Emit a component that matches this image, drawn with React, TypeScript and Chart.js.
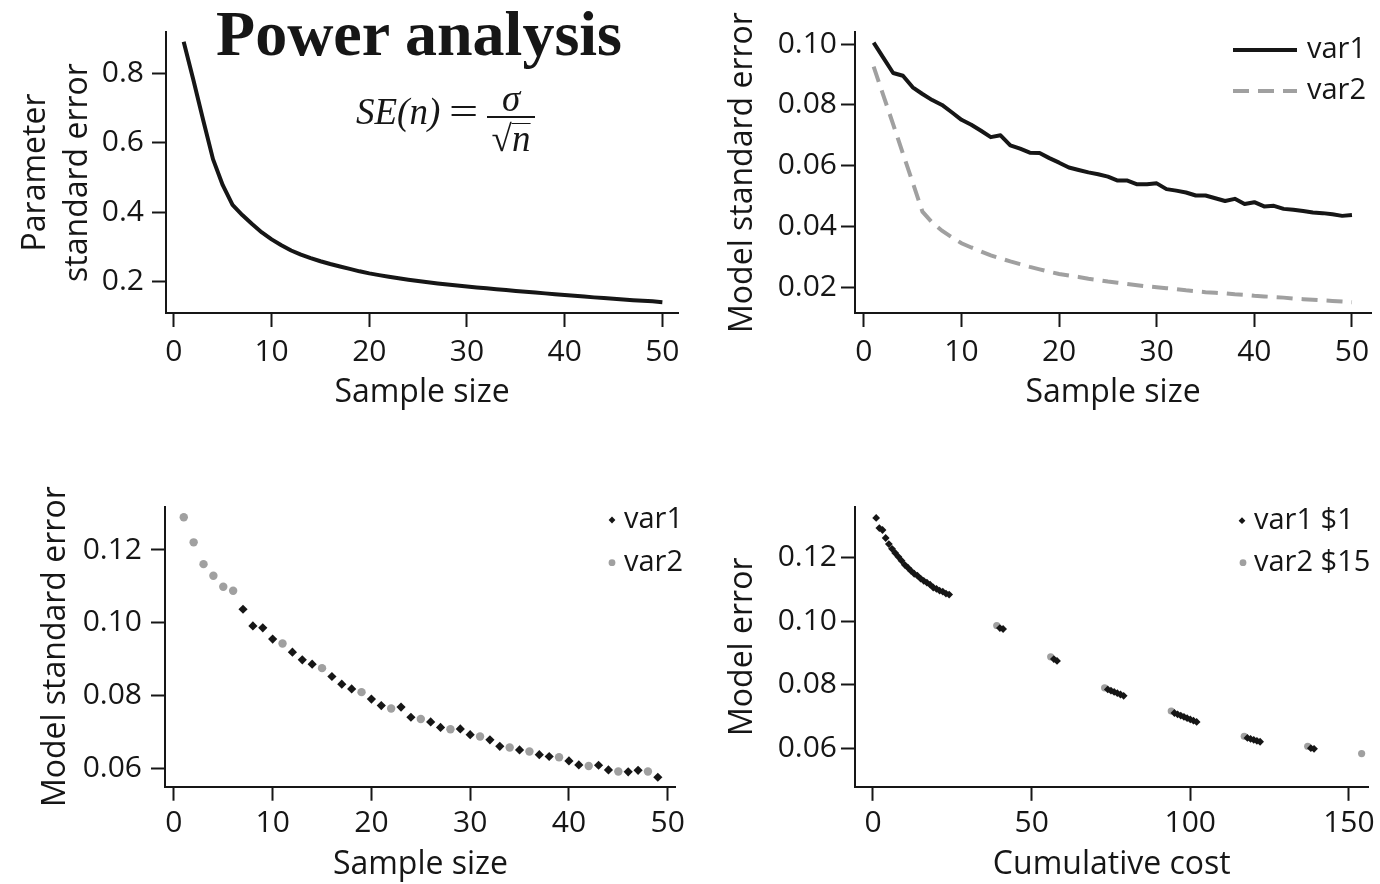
import React, { useEffect, useRef } from 'react';
import { Chart, registerables } from 'chart.js';

Chart.register(...registerables);

const SANS = '"Open Sans", "Noto Sans", sans-serif';
const SERIF = '"Liberation Serif", "DejaVu Serif", serif';
const INK = '#161616';
const GRAY = '#a0a0a0';

// ---------- data ----------
const sampleSizes = [
  1, 2, 3, 4, 5, 6, 7, 8, 9, 10, 11, 12, 13, 14, 15, 16, 17, 18, 19, 20, 21, 22, 23, 24, 25,
  26, 27, 28, 29, 30, 31, 32, 33, 34, 35, 36, 37, 38, 39, 40, 41, 42, 43, 44, 45, 46, 47, 48, 49, 50,
];

const paramStdError = [
  0.891, 0.78, 0.665, 0.553, 0.478, 0.421, 0.392, 0.366, 0.342, 0.322,
  0.305, 0.29, 0.278, 0.268, 0.259, 0.251, 0.244, 0.237, 0.23, 0.224,
  0.219, 0.2145, 0.21, 0.206, 0.202, 0.1985, 0.195, 0.192, 0.189, 0.186,
  0.1835, 0.181, 0.1785, 0.176, 0.1735, 0.1715, 0.169, 0.1665, 0.164, 0.162,
  0.16, 0.1575, 0.155, 0.153, 0.151, 0.149, 0.147, 0.1455, 0.1435, 0.141,
];

const modelSeVar1 = [
  0.1005, 0.0955, 0.0905, 0.0896, 0.0858, 0.0836, 0.0816, 0.08, 0.0776, 0.0751,
  0.0735, 0.0715, 0.0694, 0.07, 0.0667, 0.0656, 0.0643, 0.0642, 0.0625, 0.061,
  0.0594, 0.0586, 0.0578, 0.0572, 0.0564, 0.0551, 0.0551, 0.0539, 0.0539, 0.0542,
  0.0523, 0.0518, 0.0512, 0.0502, 0.0502, 0.0493, 0.0484, 0.0491, 0.0474, 0.048,
  0.0466, 0.0468, 0.0458, 0.0455, 0.0451, 0.0446, 0.0444, 0.044, 0.0435, 0.0438,
];

const modelSeVar2 = [
  0.0926, 0.0831, 0.0736, 0.064, 0.0545, 0.0449, 0.0413, 0.0386, 0.0365, 0.0345,
  0.0331, 0.0318, 0.0305, 0.0295, 0.0285, 0.0276, 0.0267, 0.0259, 0.0251, 0.0244,
  0.0239, 0.0234, 0.0228, 0.0224, 0.0219, 0.0215, 0.0211, 0.0207, 0.0203, 0.02,
  0.0197, 0.0194, 0.019, 0.0187, 0.0184, 0.0182, 0.018, 0.0177, 0.0175, 0.0172,
  0.017, 0.0168, 0.0166, 0.0163, 0.0161, 0.0159, 0.0157, 0.0155, 0.0153, 0.0151,
];

const seqVar1Sizes = [7, 8, 9, 10, 12, 13, 14, 16, 17, 18, 20, 21, 23, 24, 26, 27, 29, 30, 32, 33, 35, 37, 38, 40, 41, 43, 44, 46, 47, 49];
const seqVar1Error = [
  0.1037, 0.0991, 0.0986, 0.0955, 0.0919, 0.0898, 0.0886, 0.0852, 0.0831, 0.0818,
  0.079, 0.0772, 0.0768, 0.074, 0.0727, 0.0712, 0.0708, 0.0692, 0.0678, 0.066,
  0.065, 0.0637, 0.0632, 0.062, 0.0609, 0.0608, 0.0595, 0.059, 0.0594, 0.0575,
];
const seqVar2Sizes = [1, 2, 3, 4, 5, 6, 11, 15, 19, 22, 25, 28, 31, 34, 36, 39, 42, 45, 48];
const seqVar2Error = [
  0.129, 0.1221, 0.1161, 0.1129, 0.1099, 0.1088, 0.0943, 0.0875, 0.0809, 0.0764,
  0.0735, 0.0707, 0.0687, 0.0657, 0.0646, 0.063, 0.0606, 0.0591, 0.0591,
];

const costVar1 = [
  1, 2, 3, 4, 5, 6, 7, 8, 9, 10, 11, 12, 13, 14, 15, 16, 17, 18, 19, 20, 21, 22, 23, 24,
  40, 41, 57, 58, 74, 75, 76, 77, 78, 79, 95, 96, 97, 98, 99, 100, 101, 102,
  118, 119, 120, 121, 122, 138, 139,
];
const costVar1Error = [
  0.1323, 0.1291, 0.1285, 0.126, 0.1241, 0.1226, 0.1213, 0.1201, 0.1189, 0.1176,
  0.1167, 0.1157, 0.1148, 0.1142, 0.1133, 0.1126, 0.112, 0.1114, 0.1105, 0.1101,
  0.1095, 0.1092, 0.1086, 0.1083,
  0.0978, 0.0975, 0.0881, 0.0875,
  0.0786, 0.0782, 0.0778, 0.0774, 0.077, 0.0766,
  0.0712, 0.0708, 0.0704, 0.07, 0.0696, 0.0692, 0.0688, 0.0684,
  0.0634, 0.0631, 0.0628, 0.0625, 0.0622,
  0.0602, 0.06,
];
const costVar2 = [39, 56, 73, 94, 117, 137, 154];
const costVar2Error = [0.0986, 0.0888, 0.0791, 0.0718, 0.0639, 0.0608, 0.0585];

const sizeTicks = [0, 10, 20, 30, 40, 50];
const sizeTickLabels = ['0', '10', '20', '30', '40', '50'];
const costTicks = [0, 50, 100, 150];
const costTickLabels = ['0', '50', '100', '150'];
const paramTicks = [0.2, 0.4, 0.6, 0.8];
const paramTickLabels = ['0.2', '0.4', '0.6', '0.8'];
const modelTicks = [0.02, 0.04, 0.06, 0.08, 0.1];
const modelTickLabels = ['0.02', '0.04', '0.06', '0.08', '0.10'];
const seqTicks = [0.06, 0.08, 0.1, 0.12];
const seqTickLabels = ['0.06', '0.08', '0.10', '0.12'];

// ---------- helpers ----------
const pts = (xs: number[], ys: number[]) => xs.map((x, i) => ({ x, y: ys[i] }));

const TICK_FONT = { family: SANS, size: 30 };
const LEGEND_SIZE = 29;
const TITLE_SIZE = 32;
const TL = 14;

const panelLegend = {
  id: 'panelLegend',
  afterDraw(chart: any, _args: any, opts: any) {
    const ctx = chart.ctx as CanvasRenderingContext2D;
    (opts.items || []).forEach((it: any) => {
      const ds = chart.data.datasets[it.dataset];
      ctx.save();
      let textX = it.x;
      if (it.kind === 'line') {
        ctx.strokeStyle = ds.borderColor;
        ctx.lineWidth = ds.borderWidth;
        ctx.setLineDash(ds.borderDash || []);
        ctx.beginPath();
        ctx.moveTo(it.x, it.y);
        ctx.lineTo(it.x + it.len, it.y);
        ctx.stroke();
        textX = it.x + it.len + 10;
      } else {
        ctx.fillStyle = ds.backgroundColor;
        const r = it.r;
        ctx.beginPath();
        if (ds.pointStyle === 'rectRot') {
          ctx.moveTo(it.x, it.y - r);
          ctx.lineTo(it.x + r, it.y);
          ctx.lineTo(it.x, it.y + r);
          ctx.lineTo(it.x - r, it.y);
          ctx.closePath();
        } else {
          ctx.arc(it.x, it.y, r, 0, Math.PI * 2);
        }
        ctx.fill();
        textX = it.x + it.gap;
      }
      ctx.setLineDash([]);
      ctx.font = `${LEGEND_SIZE}px ${SANS}`;
      ctx.fillStyle = INK;
      ctx.textAlign = 'left';
      ctx.textBaseline = 'middle';
      ctx.fillText(ds.label, textX, it.y);
      ctx.restore();
    });
  },
};

type Spec = {
  x: number; y: number; w: number; h: number;
  area: { left: number; top: number; right: number; bottom: number };
  xMin: number; xMax: number; yMin: number; yMax: number;
  xTicks: number[]; xTickLabels: string[];
  yTicks: number[]; yTickLabels: string[];
  xTitle: string; yTitle: string | string[];
  yTitlePad: number; yTitleLH: number;
  xTitleOffset: number; xLabelPad: number; yLabelPad: number;
  datasets: any[];
  legend: any[];
};

function buildConfig(s: Spec): any {
  const xBoxH = s.xTitleOffset + (TITLE_SIZE * 1.2) / 2;
  return {
    type: 'scatter',
    data: { datasets: s.datasets },
    plugins: [panelLegend],
    options: {
      animation: false,
      responsive: false,
      maintainAspectRatio: false,
      events: [],
      layout: {
        padding: {
          left: 0,
          top: s.area.top,
          right: s.w - s.area.right,
          bottom: Math.max(0, s.h - s.area.bottom - xBoxH),
        },
      },
      plugins: {
        legend: { display: false },
        tooltip: { enabled: false },
        panelLegend: { items: s.legend },
      },
      scales: {
        x: {
          type: 'linear',
          position: 'bottom',
          min: s.xMin,
          max: s.xMax,
          afterBuildTicks: (sc: any) => { sc.ticks = s.xTicks.map((v) => ({ value: v })); },
          afterFit: (sc: any) => { sc.height = xBoxH; },
          ticks: {
            callback: (_v: any, i: number) => s.xTickLabels[i],
            font: TICK_FONT, color: INK, padding: s.xLabelPad, maxRotation: 0, autoSkip: false,
          },
          grid: { drawOnChartArea: false, drawTicks: true, tickLength: TL, tickWidth: 2, tickColor: INK },
          border: { display: true, color: INK, width: 2 },
          title: { display: true, text: s.xTitle, font: { family: SANS, size: TITLE_SIZE }, color: INK, padding: 0 },
        },
        y: {
          type: 'linear',
          position: 'left',
          min: s.yMin,
          max: s.yMax,
          afterBuildTicks: (sc: any) => { sc.ticks = s.yTicks.map((v) => ({ value: v })); },
          afterFit: (sc: any) => { sc.width = s.area.left; },
          ticks: {
            callback: (_v: any, i: number) => s.yTickLabels[i],
            font: TICK_FONT, color: INK, padding: s.yLabelPad, autoSkip: false,
          },
          grid: { drawOnChartArea: false, drawTicks: true, tickLength: TL, tickWidth: 2, tickColor: INK },
          border: { display: true, color: INK, width: 2 },
          title: {
            display: true, text: s.yTitle,
            font: { family: SANS, size: TITLE_SIZE, lineHeight: s.yTitleLH },
            color: INK, padding: { top: s.yTitlePad, bottom: 0 },
          },
        },
      },
    },
  };
}

function Panel({ spec }: { spec: Spec }) {
  const ref = useRef<HTMLCanvasElement>(null);
  useEffect(() => {
    const chart = new Chart(ref.current as HTMLCanvasElement, buildConfig(spec));
    return () => chart.destroy();
  }, []);
  return (
    <canvas
      ref={ref}
      width={spec.w}
      height={spec.h}
      style={{ position: 'absolute', left: spec.x, top: spec.y, width: spec.w, height: spec.h }}
    />
  );
}

// ---------- panels ----------
const panel1: Spec = {
  x: 0, y: 0, w: 690, h: 440,
  area: { left: 166, top: 32, right: 678, bottom: 313 },
  xMin: -0.81, xMax: 51.6, yMin: 0.11, yMax: 0.919,
  xTicks: sizeTicks, xTickLabels: sizeTickLabels,
  yTicks: paramTicks, yTickLabels: paramTickLabels,
  xTitle: 'Sample size', yTitle: ['Parameter', 'standard error'],
  yTitlePad: 15, yTitleLH: 1.3,
  xTitleOffset: 80, xLabelPad: 7, yLabelPad: 8,
  datasets: [
    {
      label: 'SE', data: pts(sampleSizes, paramStdError), showLine: true, pointRadius: 0,
      borderColor: INK, borderWidth: 4, backgroundColor: INK, tension: 0, borderJoinStyle: 'round',
    },
  ],
  legend: [],
};

const panel2: Spec = {
  x: 690, y: 0, w: 690, h: 440,
  area: { left: 165, top: 32, right: 681, bottom: 313 },
  xMin: -0.91, xMax: 51.95, yMin: 0.01154, yMax: 0.104,
  xTicks: sizeTicks, xTickLabels: sizeTickLabels,
  yTicks: modelTicks, yTickLabels: modelTickLabels,
  xTitle: 'Sample size', yTitle: 'Model standard error',
  yTitlePad: 34, yTitleLH: 1.2,
  xTitleOffset: 80, xLabelPad: 7, yLabelPad: 4,
  datasets: [
    {
      label: 'var1', data: pts(sampleSizes, modelSeVar1), showLine: true, pointRadius: 0,
      borderColor: INK, borderWidth: 4, backgroundColor: INK, tension: 0, borderJoinStyle: 'round',
    },
    {
      label: 'var2', data: pts(sampleSizes, modelSeVar2), showLine: true, pointRadius: 0,
      borderColor: GRAY, borderWidth: 4, backgroundColor: GRAY, borderDash: [16, 9], tension: 0,
    },
  ],
  legend: [
    { dataset: 0, kind: 'line', x: 543, y: 50, len: 64 },
    { dataset: 1, kind: 'line', x: 543, y: 91, len: 64 },
  ],
};

const panel3: Spec = {
  x: 0, y: 440, w: 690, h: 444,
  area: { left: 165, top: 66.7, right: 681, bottom: 346.7 },
  xMin: -0.9, xMax: 50.84, yMin: 0.0549, yMax: 0.1319,
  xTicks: sizeTicks, xTickLabels: sizeTickLabels,
  yTicks: seqTicks, yTickLabels: seqTickLabels,
  xTitle: 'Sample size', yTitle: 'Model standard error',
  yTitlePad: 37, yTitleLH: 1.2,
  xTitleOffset: 78, xLabelPad: 5, yLabelPad: 9,
  datasets: [
    {
      label: 'var1', data: pts(seqVar1Sizes, seqVar1Error), pointStyle: 'rectRot', pointRadius: 4.6,
      backgroundColor: INK, borderWidth: 0, borderColor: INK,
    },
    {
      label: 'var2', data: pts(seqVar2Sizes, seqVar2Error), pointStyle: 'circle', pointRadius: 4.2,
      backgroundColor: GRAY, borderWidth: 0, borderColor: GRAY,
    },
  ],
  legend: [
    { dataset: 0, kind: 'point', x: 612, y: 80, r: 3.4, gap: 12 },
    { dataset: 1, kind: 'point', x: 612, y: 122.7, r: 3.4, gap: 12 },
  ],
};

const panel4: Spec = {
  x: 690, y: 440, w: 690, h: 444,
  area: { left: 165, top: 66.7, right: 681.4, bottom: 347.3 },
  xMin: -5.67, xMax: 156.2, yMin: 0.0481, yMax: 0.1358,
  xTicks: costTicks, xTickLabels: costTickLabels,
  yTicks: seqTicks, yTickLabels: seqTickLabels,
  xTitle: 'Cumulative cost', yTitle: 'Model error',
  yTitlePad: 34, yTitleLH: 1.2,
  xTitleOffset: 78, xLabelPad: 5, yLabelPad: 4,
  datasets: [
    {
      label: 'var1 $1', data: pts(costVar1, costVar1Error), pointStyle: 'rectRot', pointRadius: 3.9,
      backgroundColor: INK, borderWidth: 0, borderColor: INK,
    },
    {
      label: 'var2 $15', data: pts(costVar2, costVar2Error), pointStyle: 'circle', pointRadius: 3.6,
      backgroundColor: GRAY, borderWidth: 0, borderColor: GRAY,
    },
  ],
  legend: [
    { dataset: 0, kind: 'point', x: 552, y: 80.7, r: 3.4, gap: 12 },
    { dataset: 1, kind: 'point', x: 553, y: 122.7, r: 3.4, gap: 11 },
  ],
};

function serifAt(left: number, baseline: number, size: number, extra: React.CSSProperties = {}): React.CSSProperties {
  return {
    position: 'absolute',
    left,
    top: baseline - size * 0.8375,
    fontFamily: SERIF,
    fontSize: size,
    lineHeight: `${size}px`,
    whiteSpace: 'nowrap',
    color: INK,
    ...extra,
  };
}

export default function App() {
  return (
    <div style={{ position: 'fixed', left: 0, top: 0, width: 1380, height: 884, background: '#fff', overflow: 'hidden' }}>
      <Panel spec={panel1} />
      <Panel spec={panel2} />
      <Panel spec={panel3} />
      <Panel spec={panel4} />
      <div
        style={{
          ...serifAt(0, 56, 64, { fontWeight: 'bold' }),
          left: 419,
          transform: 'translateX(-50%)',
        }}
      >
        Power analysis
      </div>
      <div style={serifAt(356, 124, 37, { fontStyle: 'italic' })}>SE(n)</div>
      <div style={serifAt(449, 124, 37, { transform: 'scaleX(1.4)', transformOrigin: 'left center' })}>=</div>
      <div style={{ ...serifAt(0, 111, 37, { fontStyle: 'italic' }), left: 511, transform: 'translateX(-50%)' }}>σ</div>
      <div style={{ position: 'absolute', left: 487, top: 116, width: 48, height: 2, background: INK }} />
      <div style={{ ...serifAt(0, 151, 37), left: 511, transform: 'translateX(-50%)' }}>
        √<span style={{ fontStyle: 'italic', borderTop: `1.5px solid ${INK}`, lineHeight: '30px', display: 'inline-block' }}>n</span>
      </div>
    </div>
  );
}
